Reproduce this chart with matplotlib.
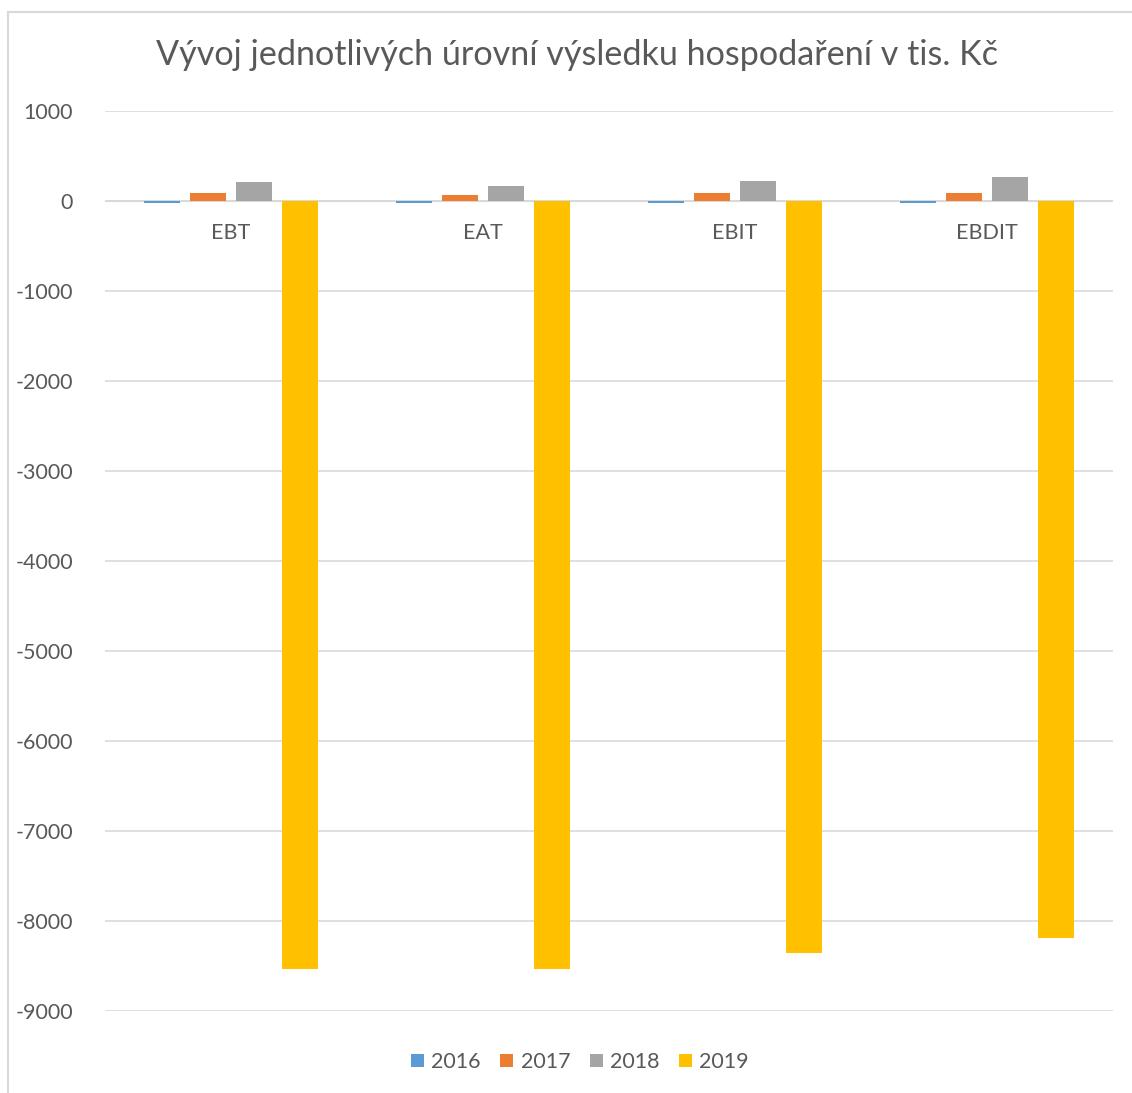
import numpy as np
import matplotlib
matplotlib.use("Agg")
import matplotlib.pyplot as plt
from matplotlib.lines import Line2D

categories = ["EBT", "EAT", "EBIT", "EBDIT"]
years = ["2016", "2017", "2018", "2019"]
v2016 = [-25, -25, -25, -25]
v2017 = [87, 72, 91, 87]
v2018 = [209, 169, 224, 272]
v2019 = [-8530, -8530, -8358, -8194]
values = [v2016, v2017, v2018, v2019]
colors = ["#5B9BD5", "#ED7D31", "#A5A5A5", "#FFC000"]

plt.rcParams["font.family"] = ["Lato", "DejaVu Sans"]
text_color = "#595959"

W, H = 1132, 1093
fig = plt.figure(figsize=(W / 100, H / 100), dpi=100)
ax = fig.add_axes([105 / W, 1 - 1011 / H, (1113 - 105) / W, (1011 - 111) / H])

# chart border (light gray frame, only top/left visible in the crop)
fig.add_artist(Line2D([8 / W, 8 / W], [0, 1 - 12 / H], color="#d9d9d9", lw=1.5))
fig.add_artist(Line2D([8 / W, 1], [1 - 12 / H, 1 - 12 / H], color="#d9d9d9", lw=1.5))

x = np.arange(len(categories))
step = 0.1825
width = 0.145
for i, (yr, vals) in enumerate(zip(years, values)):
    ax.bar(x + (i - 1.5) * step, vals, width=width, color=colors[i], label=yr, zorder=3)

ax.set_xlim(-0.5, len(categories) - 0.5)
ax.set_ylim(-9000, 1000)
ax.set_yticks(np.arange(-9000, 1001, 1000))
ax.set_yticklabels([str(v) for v in range(-9000, 1001, 1000)])
ax.yaxis.grid(True, color="#d9d9d9", lw=1.2, zorder=0)
ax.axhline(0, color="#d9d9d9", lw=1.5, zorder=2)
ax.set_xticks([])
for s in ax.spines.values():
    s.set_visible(False)
ax.tick_params(axis="y", length=0, pad=23, labelsize=15.5, labelcolor=text_color)

# category labels sit just under the zero line
for xi, name in zip(x, categories):
    ax.text(xi, -350, name, ha="center", va="center", fontsize=15.5, color=text_color)

fig.text(577 / W, 1 - 55 / H, "Vývoj jednotlivých úrovní výsledku hospodaření v tis. Kč",
         ha="center", va="center", fontsize=24.6, color=text_color)

fig.legend(loc="center", bbox_to_anchor=(580 / W, 1 - 1062 / H), ncol=4, frameon=False,
           fontsize=15.5, labelcolor=text_color, handlelength=0.6, handleheight=0.6,
           handletextpad=0.35, columnspacing=0.9)

fig.savefig("out.png", dpi=100, facecolor="white")
